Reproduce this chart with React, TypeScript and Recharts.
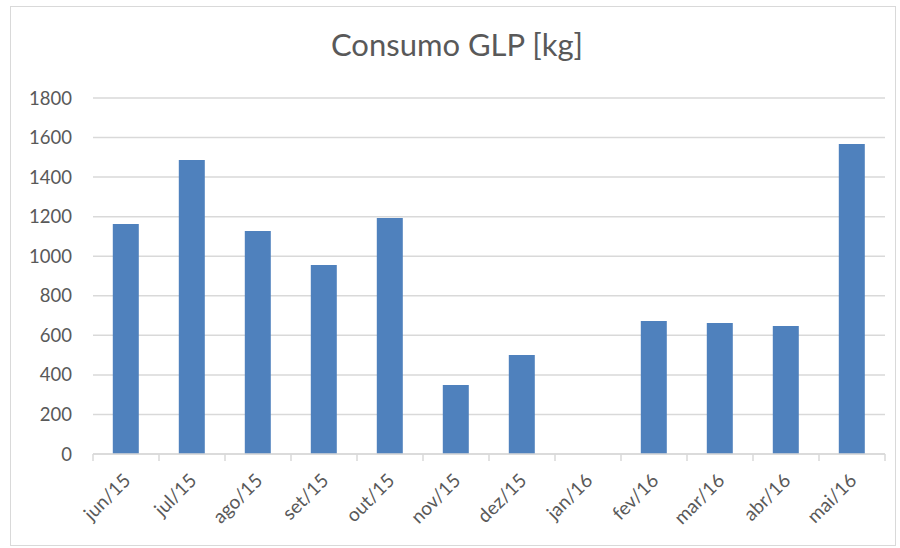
import React from "react";
import { BarChart, Bar, XAxis, YAxis, CartesianGrid } from "recharts";

const months = ["jun/15", "jul/15", "ago/15", "set/15", "out/15", "nov/15", "dez/15", "jan/16", "fev/16", "mar/16", "abr/16", "mai/16"];
const consumo = [1163, 1486, 1127, 956, 1193, 349, 500, 0, 672, 662, 647, 1567];
const yTicks = [0, 200, 400, 600, 800, 1000, 1200, 1400, 1600, 1800];

const data = months.map((m, i) => ({ month: m, value: consumo[i] }));

const W = 900;
const H = 548;
const LEFT = 93;
const RIGHT = 15;
const BAND = (W - LEFT - RIGHT) / months.length;
const FONT = "Lato, 'Open Sans', sans-serif";
const TEXT = "#595959";
const GRID = "#d9d9d9";

const XTick = (props: any) => {
  const { x, y, payload, index } = props;
  const last = index === months.length - 1;
  return (
    <g>
      <line x1={x - BAND / 2} y1={y - 8} x2={x - BAND / 2} y2={y - 1} stroke={GRID} strokeWidth={1.5} />
      {last && <line x1={x + BAND / 2} y1={y - 8} x2={x + BAND / 2} y2={y - 1} stroke={GRID} strokeWidth={1.5} />}
      <g transform={`translate(${x + 1},${y + 15})`}>
        <text x={0} y={0} dy="0.35em" textAnchor="end" transform="rotate(-45)" fill={TEXT} fontSize={19} fontFamily={FONT}>
          {payload.value}
        </text>
      </g>
    </g>
  );
};

export default function App() {
  return (
    <div style={{ position: "absolute", left: 0, top: 0, width: W, height: H, background: "#fff" }}>
      <div style={{ position: "absolute", left: 10, top: 6, width: 886, height: 540, border: `1.5px solid ${GRID}`, boxSizing: "border-box" }} />
      <div style={{ position: "absolute", left: 14, width: 900 - 14, top: 25, textAlign: "center", fontFamily: FONT, fontSize: 31, fontWeight: 400, color: TEXT }}>
        Consumo GLP [kg]
      </div>
      <div style={{ position: "absolute", left: 0, top: 0 }}>
        <BarChart width={W} height={H} data={data} margin={{ top: 98, right: RIGHT, bottom: 34, left: 0 }} barCategoryGap="30%">
          <CartesianGrid vertical={false} stroke={GRID} strokeWidth={1.5} />
          <XAxis dataKey="month" height={60} axisLine={{ stroke: GRID, strokeWidth: 1.5 }} tickLine={false} tick={<XTick />} interval={0} />
          <YAxis width={LEFT} domain={[0, 1800]} ticks={yTicks} axisLine={false} tickLine={false} tickSize={0} tickMargin={21} tick={{ fill: TEXT, fontSize: 18.5, fontFamily: FONT }} />
          <Bar dataKey="value" fill="#4f81bd" isAnimationActive={false} />
        </BarChart>
      </div>
    </div>
  );
}
